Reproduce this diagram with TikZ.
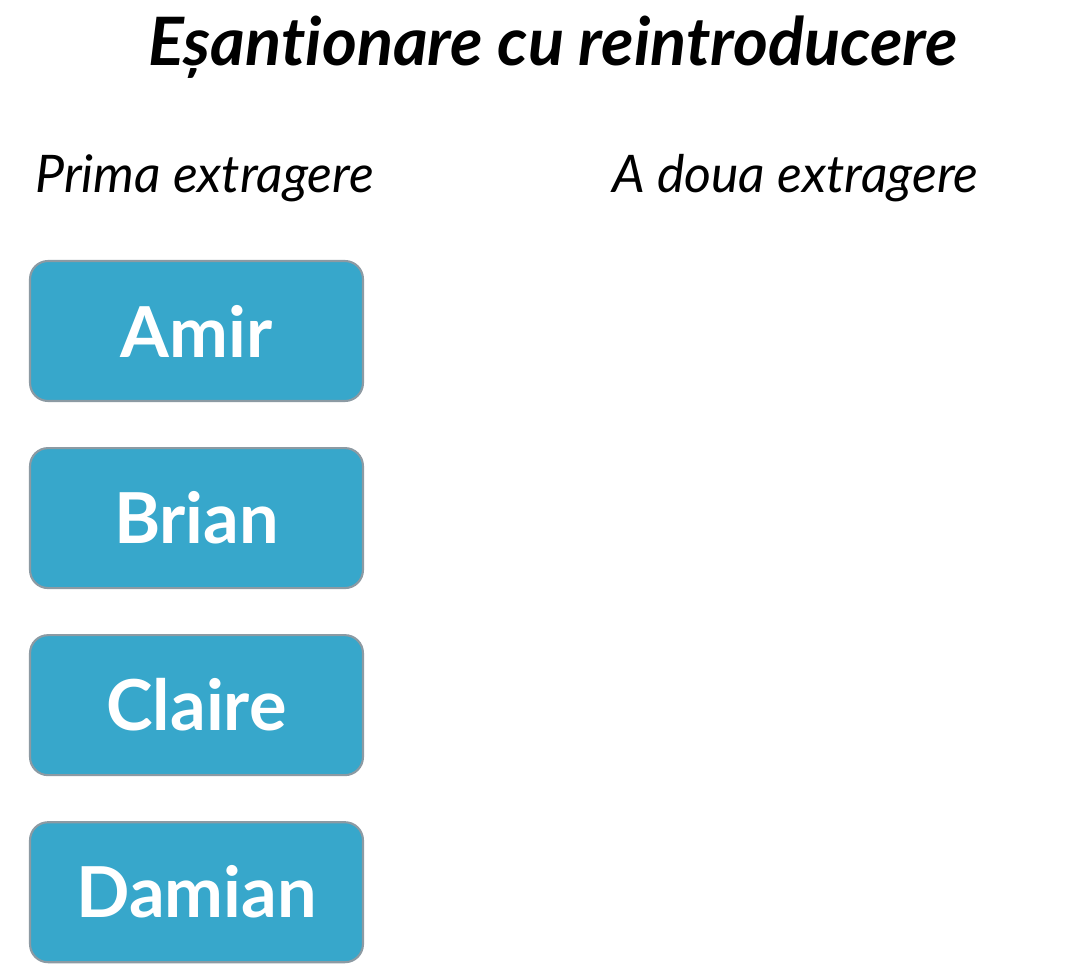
\documentclass[tikz,border=0pt]{standalone}
\usepackage{fontspec}
\setmainfont{Lato}[Ligatures=NoCommon]
\usepackage{tikz}
\usetikzlibrary{positioning}
\usepackage{xcolor}

\definecolor{boxblue}{HTML}{37A7CB}
\definecolor{boxedge}{HTML}{8C9AA3}

\tikzset{
  heading/.style={font=\fontsize{38}{44}\selectfont\bfseries\itshape},
  colhead/.style={font=\fontsize{29.5}{34}\selectfont\itshape},
  person/.style={draw=boxedge, line width=1.2pt, fill=boxblue, rounded corners=0.36cm,
    minimum width=6.66cm, minimum height=2.8cm, text=white,
    font=\fontsize{40}{44}\selectfont\bfseries}
}

\begin{document}
\begin{tikzpicture}[x=0.02cm, y=-0.02cm, node distance=0.9cm]
\useasboundingbox[fill=white] (0,0) rectangle (1086,976);

\node[heading, anchor=base] (title) at (553,66) {Eșantionare cu reintroducere};
\node[colhead, anchor=base west, inner sep=0pt] (first) at (35,193) {Prima extragere};
\node[colhead, anchor=base west, inner sep=0pt] (second) at (612,193) {A doua extragere};

\node[person] (amir) at (196.5,331) {Amir};
\node[person, below=of amir] (brian) {Brian};
\node[person, below=of brian] (claire) {Claire};
\node[person, below=of claire] (damian) {Damian};
\end{tikzpicture}
\end{document}
